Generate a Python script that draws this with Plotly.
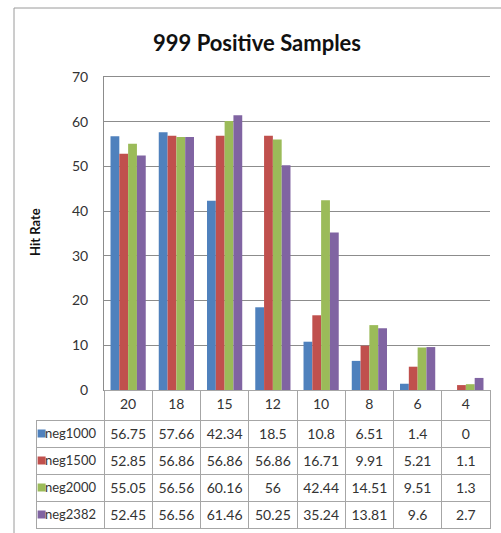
import plotly.graph_objects as go

# Categories along the x axis (header row of the data table)
categories = ["20", "18", "15", "12", "10", "8", "6", "4"]

# Hit rate per series
series_names = ["neg1000", "neg1500", "neg2000", "neg2382"]
neg1000 = [56.75, 57.66, 42.34, 18.5, 10.8, 6.51, 1.4, 0]
neg1500 = [52.85, 56.86, 56.86, 56.86, 16.71, 9.91, 5.21, 1.1]
neg2000 = [55.05, 56.56, 60.16, 56, 42.44, 14.51, 9.51, 1.3]
neg2382 = [52.45, 56.56, 61.46, 50.25, 35.24, 13.81, 9.6, 2.7]
series_values = [neg1000, neg1500, neg2000, neg2382]

colors = ["#4F81BD", "#C0504D", "#9BBB59", "#8064A2"]

W, H = 501, 533
FONT = "Lato"
GRID = "#8C8C8C"
TABLE_LINE = "#A6A6A6"
TEXT = "#333333"

# pixel layout of the chart
PLOT_L, PLOT_R, PLOT_T, PLOT_B = 104, 490, 77, 390
TABLE_L = 36
HEADER_H, ROW_H = 30, 27


def px_x(x):
    return x / W


def px_y(y):
    return 1 - y / H


fig = go.Figure()

for name, vals, col in zip(series_names, series_values, colors):
    fig.add_trace(go.Bar(
        x=categories, y=vals, name=name,
        marker=dict(color=col, line=dict(width=0)),
        showlegend=False,
    ))

# Data table under the chart: a legend column plus one column per category
value_columns = [[str(v[i]) for v in series_values] for i in range(len(categories))]
n_cat = len(categories)

table_bottom = PLOT_B + HEADER_H + ROW_H * len(series_names)
fig.add_trace(go.Table(
    domain=dict(x=[px_x(TABLE_L), px_x(PLOT_R)], y=[px_y(table_bottom + 2), px_y(PLOT_B)]),
    columnwidth=[PLOT_L - TABLE_L] + [(PLOT_R - PLOT_L) / n_cat] * n_cat,
    header=dict(
        values=[""] + categories,
        height=HEADER_H,
        align="center",
        fill=dict(color=["rgba(0,0,0,0)"] + ["white"] * n_cat),
        line=dict(color=["rgba(0,0,0,0)"] + [TABLE_LINE] * n_cat, width=1),
        font=dict(family=FONT, size=14, color=TEXT),
    ),
    cells=dict(
        values=[series_names] + value_columns,
        height=ROW_H,
        align=["right"] + ["center"] * n_cat,
        fill=dict(color=["rgba(0,0,0,0)"] + ["white"] * n_cat),
        line=dict(color=TABLE_LINE, width=1),
        font=dict(family=FONT, size=[13] + [14] * n_cat, color=TEXT),
    ),
))

# Legend keys drawn in the table's first column
fig.add_trace(go.Scatter(
    x=[0] * len(series_names),
    y=list(range(len(series_names))),
    mode="markers",
    marker=dict(symbol="square", size=8, color=colors, line=dict(width=0)),
    xaxis="x2", yaxis="y2",
    showlegend=False, hoverinfo="skip",
))

fig.update_layout(
    template="none",
    width=W, height=H,
    margin=dict(l=0, r=0, t=0, b=0, autoexpand=False),
    paper_bgcolor="white",
    plot_bgcolor="white",
    barmode="group",
    bargap=0.27,
    bargroupgap=0,
    font=dict(family=FONT, color=TEXT),
    xaxis=dict(
        type="category",
        domain=[px_x(PLOT_L), px_x(PLOT_R)],
        showticklabels=False,
        ticks="",
        showgrid=False,
        showline=True, mirror=True, linecolor=GRID, linewidth=1,
        zeroline=False, automargin=False,
    ),
    yaxis=dict(
        domain=[px_y(PLOT_B), px_y(PLOT_T)],
        range=[0, 70],
        dtick=10,
        showgrid=True, gridcolor=GRID, gridwidth=1,
        showline=True, linecolor=GRID, linewidth=1,
        zeroline=False, automargin=False,
        ticks="",
        ticklabelstandoff=12,
        tickfont=dict(family=FONT, size=14, color=TEXT),
    ),
    xaxis2=dict(
        domain=[px_x(TABLE_L), px_x(PLOT_L)],
        range=[-0.09, 1], anchor="y2",
        visible=False, fixedrange=True, automargin=False,
    ),
    yaxis2=dict(
        domain=[px_y(table_bottom), px_y(PLOT_B + HEADER_H)],
        range=[len(series_names) - 0.5, -0.5], anchor="x2",
        visible=False, fixedrange=True, automargin=False,
    ),
    annotations=[
        dict(
            text="<b>999 Positive Samples</b>",
            xref="paper", yref="paper",
            x=px_x(257), y=px_y(42),
            xanchor="center", yanchor="middle",
            showarrow=False,
            font=dict(family=FONT, size=22, color="#111111"),
        ),
        dict(
            text="<b>Hit Rate</b>",
            xref="paper", yref="paper",
            x=px_x(35), y=px_y(232),
            xanchor="center", yanchor="middle",
            textangle=-90,
            showarrow=False,
            font=dict(family=FONT, size=13, color="#111111"),
        ),
    ],
    shapes=[
        # outer chart frame
        dict(
            type="rect", xref="paper", yref="paper",
            x0=px_x(14), x1=1.05, y0=-0.05, y1=px_y(8),
            line=dict(color="#9A9A9A", width=1),
            fillcolor="rgba(0,0,0,0)",
            layer="below",
        ),
    ],
)

fig.write_html("out.html")
